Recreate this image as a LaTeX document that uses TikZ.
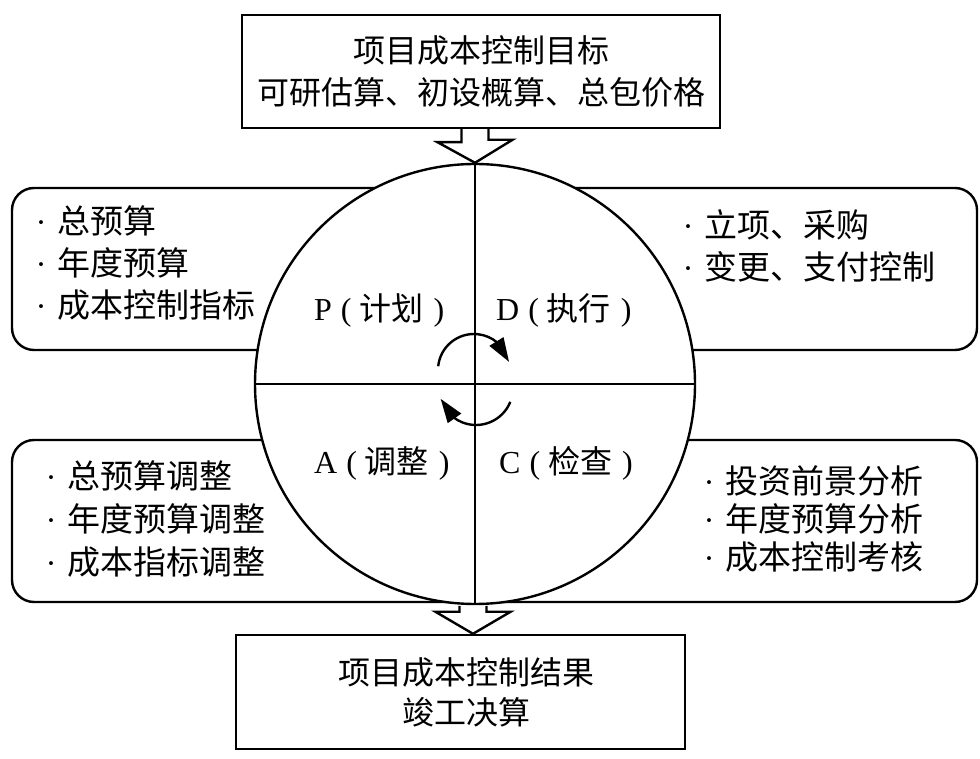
\documentclass[tikz,border=0pt]{standalone}
\usepackage{fontspec}
\setmainfont{Liberation Serif}
\newfontfamily\cjk{Noto Sans CJK SC}
\usetikzlibrary{arrows.meta,bending,calc}
\newcommand{\lstbul}{\makebox[1em][c]{\rmfamily ·}}
\newcommand{\qlab}[2]{{\rmfamily #1\hspace{9pt}(\hspace{8pt}}#2{\rmfamily\hspace{10pt})}}
\begin{document}
\begin{tikzpicture}[x=1pt,y=1pt,line width=2.4pt,
  framebox/.style={draw,fill=white,inner sep=0pt,align=center},
  roundbox/.style={draw,fill=white,rounded corners=22pt,inner sep=0pt},
  listtxt/.style={anchor=west,inner sep=0pt,align=left},
  quad/.style={anchor=west,inner sep=0pt,font=\cjk\fontsize{32}{40}\selectfont},
  blockarrow/.style={draw,fill=white,line join=miter},
  cyclearrow/.style={-{Triangle[length=24pt,width=16pt]},line width=2.4pt}]
\useasboundingbox (0,0) rectangle (980,758);

% side boxes
\node[roundbox,minimum width=468pt,minimum height=162pt] (tl) at (246,489) {};
\node[roundbox,minimum width=507pt,minimum height=162pt] (tr) at (723.5,489) {};
\node[roundbox,minimum width=468pt,minimum height=162pt] (bl) at (246,237) {};
\node[roundbox,minimum width=507pt,minimum height=162pt] (br) at (723.5,237) {};

% top and bottom boxes
\node[framebox,minimum width=478pt,minimum height=113pt,font=\cjk\fontsize{32}{42}\selectfont] (top) at (481,686.5)
  {项目成本控制目标\\可研估算、初设概算、总包价格};
\node[framebox,minimum width=449pt,minimum height=114pt,font=\cjk\fontsize{32}{40}\selectfont] (bot) at (460.5,66)
  {\hspace*{11pt}项目成本控制结果\\\hspace*{11pt}竣工决算};

% PDCA circle
\node[draw,fill=white,circle,minimum size=440pt,inner sep=0pt] (cyc) at (475,374) {};
\draw (cyc.north) -- (cyc.south);
\draw (cyc.west) -- (cyc.east);

% block arrows
\coordinate (ta) at (cyc.north);
\draw[blockarrow] ($(ta |- top.south)+(-13.5,0)$) -- ++(0,-13) -- ++(-24,0) -- (ta)
  -- ++(37.5,23) -- ++(-24,0) -- ($(ta |- top.south)+(13.5,0)$);
\coordinate (tb) at ($(cyc.south |- bot.north)+(-2,0)$);
\draw[blockarrow] ($(tb)+(-13.5,28)$) -- ++(0,-6) -- ++(-24,0) -- (tb)
  -- ++(37.5,22) -- ++(-24,0) -- ++(0,6);

% list texts
\node[listtxt,font=\cjk\fontsize{33}{42}\selectfont] (tlt) at (23.5,495)
  {\lstbul 总预算\\\lstbul 年度预算\\\lstbul 成本控制指标};
\node[listtxt,font=\cjk\fontsize{33}{42}\selectfont] (trt) at (670.5,512)
  {\lstbul 立项、采购\\\lstbul 变更、支付控制};
\node[listtxt,font=\cjk\fontsize{33}{43}\selectfont] (blt) at (33.5,239)
  {\lstbul 总预算调整\\\lstbul 年度预算调整\\\lstbul 成本指标调整};
\node[listtxt,font=\cjk\fontsize{33}{38}\selectfont] (brt) at (691.5,239)
  {\lstbul 投资前景分析\\\lstbul 年度预算分析\\\lstbul 成本控制考核};

% quadrant labels
\node[quad] (qp) at (313,448) {\qlab{P}{计划}};
\node[quad] (qd) at (495,448) {\qlab{D}{执行}};
\node[quad] (qa) at (313,295) {\qlab{A}{调整}};
\node[quad] (qc) at (498,295) {\qlab{C}{检查}};

% cycle arrows
\coordinate (cu) at (474,388);
\coordinate (cl) at (476,370);
\draw[cyclearrow] (cu) ++(174:36) arc[start angle=174,end angle=13,radius=36];
\draw[cyclearrow] (cl) ++(-22:37) arc[start angle=-22,end angle=-163,radius=37];
\end{tikzpicture}
\end{document}
